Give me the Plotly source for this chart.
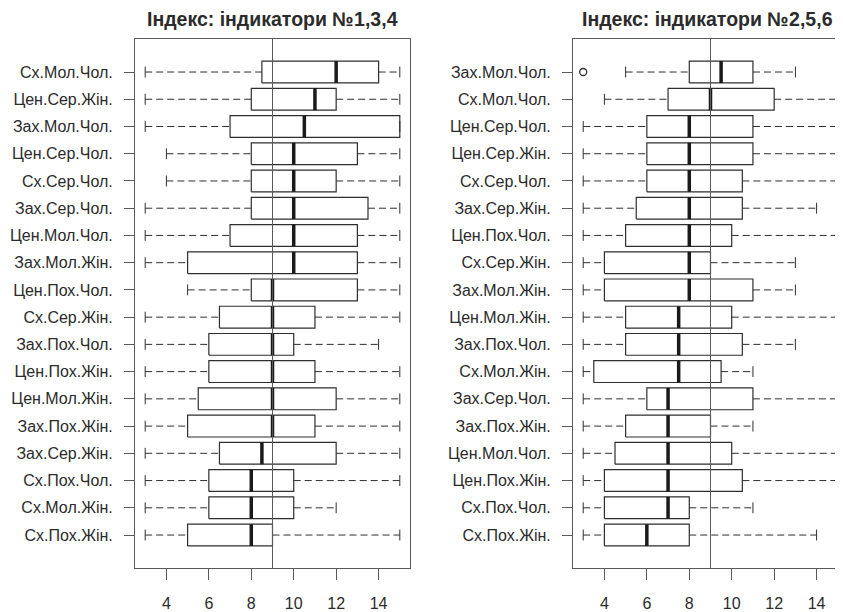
import plotly.graph_objects as go

# ---------------- data ----------------
left_title = "Індекс: індикатори №1,3,4"
left_labels = ["Сх.Мол.Чол.", "Цен.Сер.Жін.", "Зах.Мол.Чол.", "Цен.Сер.Чол.", "Сх.Сер.Чол.",
               "Зах.Сер.Чол.", "Цен.Мол.Чол.", "Зах.Мол.Жін.", "Цен.Пох.Чол.", "Сх.Сер.Жін.",
               "Зах.Пох.Чол.", "Цен.Пох.Жін.", "Цен.Мол.Жін.", "Зах.Пох.Жін.", "Зах.Сер.Жін.",
               "Сх.Пох.Чол.", "Сх.Мол.Жін.", "Сх.Пох.Жін."]
left_lo = [3, 3, 3, 4, 4, 3, 3, 3, 5, 3, 3, 3, 3, 3, 3, 3, 3, 3]
left_q1 = [8.5, 8, 7, 8, 8, 8, 7, 5, 8, 6.5, 6, 6, 5.5, 5, 6.5, 6, 6, 5]
left_med = [12, 11, 10.5, 10, 10, 10, 10, 10, 9, 9, 9, 9, 9, 9, 8.5, 8, 8, 8]
left_q3 = [14, 12, 15, 13, 12, 13.5, 13, 13, 13, 11, 10, 11, 12, 11, 12, 10, 10, 9]
left_hi = [15, 15, 15, 15, 15, 15, 15, 15, 15, 15, 14, 15, 15, 15, 15, 15, 12, 15]
left_out_x, left_out_row = [], []

right_title = "Індекс: індикатори №2,5,6"
right_labels = ["Зах.Мол.Чол.", "Сх.Мол.Чол.", "Цен.Сер.Чол.", "Цен.Сер.Жін.", "Сх.Сер.Чол.",
                "Зах.Сер.Жін.", "Цен.Пох.Чол.", "Сх.Сер.Жін.", "Зах.Мол.Жін.", "Цен.Мол.Жін.",
                "Зах.Пох.Чол.", "Сх.Мол.Жін.", "Зах.Сер.Чол.", "Зах.Пох.Жін.", "Цен.Мол.Чол.",
                "Цен.Пох.Жін.", "Сх.Пох.Чол.", "Сх.Пох.Жін."]
right_lo = [5, 4, 3, 3, 3, 3, 3, 3, 3, 3, 3, 3, 3, 3, 3, 3, 3, 3]
right_q1 = [8, 7, 6, 6, 6, 5.5, 5, 4, 4, 5, 5, 3.5, 6, 5, 4.5, 4, 4, 4]
right_med = [9.5, 9, 8, 8, 8, 8, 8, 8, 8, 7.5, 7.5, 7.5, 7, 7, 7, 7, 7, 6]
right_q3 = [11, 12, 11, 11, 10.5, 10.5, 10, 9, 11, 10, 10.5, 9.5, 11, 9, 10, 10.5, 8, 8]
right_hi = [13, 15, 15, 15, 15, 14, 15, 13, 13, 15, 13, 11, 15, 11, 15, 15, 11, 14]
right_out_x, right_out_row = [3], [0]

x_ticks = [4, 6, 8, 10, 12, 14]
ref_value = 9

# ---------------- style ----------------
OFF = 8                      # default page body margin
W, H = 843 - OFF, 612 - OFF
FONT = "Liberation Sans, Arial, Helvetica, sans-serif"
TXT = "#2b2b2b"
LINE = "#2e2e2e"
FRAME = "#5a5a5a"
BOXW = 0.4      # half box width
CAPW = 0.2      # half staple width

# plot area geometry (window pixels, converted to figure pixels)
top_px, bot_px = 39 - OFF, 572 - OFF
L_x0, L_x1 = 135 - OFF, 410 - OFF
R_x0, R_x1 = 573 - OFF, 843 - OFF
R_full = 847 - OFF
xr_left = [2.52, 15.48]
ppu = (L_x1 - L_x0) / (xr_left[1] - xr_left[0])
xr_right = [2.52, 2.52 + (R_x1 - R_x0) / ppu]

fig = go.Figure()


def add_panel(labels, lo, q1, med, q3, hi, out_x, out_row, xa, ya):
    n = len(labels)
    pos = [n - i for i in range(n)]
    wx, wy, cx, cy, bx, by, mx, my = [], [], [], [], [], [], [], []
    for i, p in enumerate(pos):
        wx += [lo[i], q1[i], None, q3[i], hi[i], None]
        wy += [p, p, None, p, p, None]
        cx += [lo[i], lo[i], None, hi[i], hi[i], None]
        cy += [p - CAPW, p + CAPW, None, p - CAPW, p + CAPW, None]
        bx += [q1[i], q3[i], q3[i], q1[i], q1[i], None]
        by += [p - BOXW, p - BOXW, p + BOXW, p + BOXW, p - BOXW, None]
        mx += [med[i], med[i], None]
        my += [p - BOXW, p + BOXW, None]
    common = dict(xaxis=xa, yaxis=ya, mode="lines", hoverinfo="skip", showlegend=False)
    fig.add_trace(go.Scatter(x=wx, y=wy, line=dict(color=LINE, width=1, dash="7px,4px"), **common))
    fig.add_trace(go.Scatter(x=cx, y=cy, line=dict(color=LINE, width=1), **common))
    fig.add_trace(go.Scatter(x=bx, y=by, line=dict(color=LINE, width=1.2), **common))
    fig.add_trace(go.Scatter(x=mx, y=my, line=dict(color="#1a1a1a", width=3.5), **common))
    if out_x:
        fig.add_trace(go.Scatter(x=out_x, y=[pos[r] for r in out_row], xaxis=xa, yaxis=ya,
                                 mode="markers", hoverinfo="skip", showlegend=False,
                                 marker=dict(symbol="circle-open", size=7, color=LINE,
                                             line=dict(width=1.3, color=LINE))))
    fig.add_trace(go.Scatter(x=[ref_value, ref_value], y=[-10, 40], line=dict(color=FRAME, width=1),
                             **common))
    return pos


posL = add_panel(left_labels, left_lo, left_q1, left_med, left_q3, left_hi,
                 left_out_x, left_out_row, "x", "y")
posR = add_panel(right_labels, right_lo, right_q1, right_med, right_q3, right_hi,
                 right_out_x, right_out_row, "x2", "y2")

ydom = [(H - bot_px) / H, (H - top_px) / H]
yrange = [0.5 - 0.72, 18.5 + 0.72]

xfont = dict(family=FONT, size=16, color=TXT)
yfont = dict(family=FONT, size=16, color=TXT)


def xaxis(dom, rng, anchor):
    return dict(domain=dom, range=rng, anchor=anchor, tickvals=x_ticks,
                ticks="outside", ticklen=11, tickcolor=FRAME, tickwidth=1,
                showline=True, linecolor=FRAME, linewidth=1, mirror=True,
                showgrid=False, zeroline=False, tickfont=xfont, ticklabelstandoff=10)


def yaxis(pos, labels, anchor, mirror):
    return dict(domain=ydom, range=yrange, anchor=anchor, tickvals=pos, ticktext=labels,
                ticks="outside", ticklen=10, tickcolor=FRAME, tickwidth=1,
                showline=True, linecolor=FRAME, linewidth=1, mirror=mirror,
                showgrid=False, zeroline=False, tickfont=yfont, ticklabelstandoff=8)


title_y = 1 - (19 - OFF) / H
fig.update_layout(
    width=W, height=H,
    margin=dict(l=0, r=0, t=0, b=0),
    paper_bgcolor="white", plot_bgcolor="white",
    xaxis=xaxis([L_x0 / W, L_x1 / W], xr_left, "y"),
    yaxis=yaxis(posL, left_labels, "x", True),
    xaxis2=xaxis([R_x0 / W, R_x1 / W], xr_right, "y2"),
    yaxis2=yaxis(posR, right_labels, "x2", False),
    annotations=[
        dict(text="<b>%s</b>" % left_title, xref="paper", yref="paper",
             x=(L_x0 + L_x1) / 2 / W, y=title_y, xanchor="center", yanchor="middle",
             showarrow=False, font=dict(family=FONT, size=19.5, color=TXT)),
        dict(text="<b>%s</b>" % right_title, xref="paper", yref="paper",
             x=(R_x0 + R_full) / 2 / W - 3 / W, y=title_y, xanchor="center", yanchor="middle",
             showarrow=False, font=dict(family=FONT, size=19.5, color=TXT)),
    ],
)

fig.write_html("out.html")
